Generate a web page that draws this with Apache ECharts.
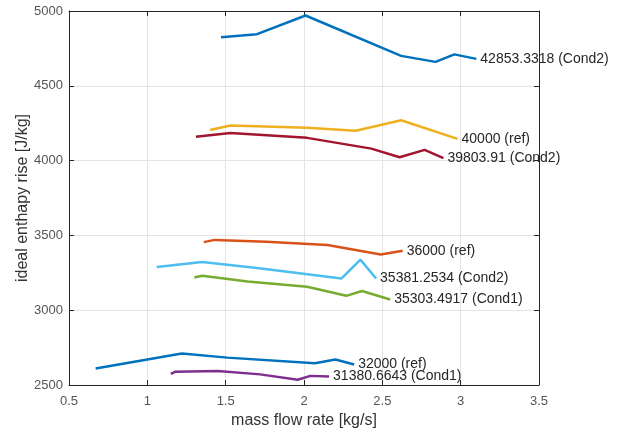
<!DOCTYPE html>
<html><head><meta charset="utf-8">
<script src="https://cdn.jsdelivr.net/npm/echarts@6/dist/echarts.min.js"></script>
<style>html,body{margin:0;padding:0;background:#fff}#c{width:635px;height:435px}</style>
</head><body><div id="c"></div>
<script>
const xTicks = [0.5, 1, 1.5, 2, 2.5, 3, 3.5];
const yTicks = [2500, 3000, 3500, 4000, 4500, 5000];

const s1Name = "42853.3318 (Cond2)";
const s1 = [[1.47,4825],[1.70,4845],[2.01,4970],[2.62,4700],[2.84,4660],[2.96,4710],[3.10,4680]];
const s2Name = "40000 (ref)";
const s2 = [[1.40,4205],[1.53,4235],[2.02,4220],[2.33,4200],[2.62,4270],[2.98,4145]];
const s3Name = "39803.91 (Cond2)";
const s3 = [[1.31,4160],[1.53,4185],[2.02,4152],[2.43,4080],[2.61,4022],[2.77,4072],[2.89,4017]];
const s4Name = "36000 (ref)";
const s4 = [[1.36,3455],[1.43,3470],[1.76,3458],[2.15,3436],[2.49,3372],[2.63,3397]];
const s5Name = "35381.2534 (Cond2)";
const s5 = [[1.06,3288],[1.35,3322],[1.70,3282],[2.24,3212],[2.36,3338],[2.46,3212]];
const s6Name = "35303.4917 (Cond1)";
const s6 = [[1.30,3218],[1.35,3230],[1.64,3192],[2.02,3157],[2.27,3096],[2.37,3128],[2.55,3072]];
const s7Name = "32000 (ref)";
const s7 = [[0.67,2610],[1.22,2710],[1.51,2683],[2.07,2645],[2.20,2670],[2.32,2637]];
const s8Name = "31380.6643 (Cond1)";
const s8 = [[1.15,2574],[1.18,2589],[1.45,2593],[1.72,2571],[1.96,2535],[2.04,2561],[2.16,2556]];

const seriesDefs = [
  [s1Name, s1, '#0072BD'],
  [s2Name, s2, '#EDB120'],
  [s3Name, s3, '#A2142F'],
  [s4Name, s4, '#D95319'],
  [s5Name, s5, '#4DBEEE'],
  [s6Name, s6, '#77AC30'],
  [s7Name, s7, '#0072BD'],
  [s8Name, s8, '#7E2F8E']
];

const font = "'Liberation Sans', Arial, sans-serif";
const axisCommon = {
  axisLine: {show: true, lineStyle: {color: '#262626', width: 1}},
  axisTick: {show: true, inside: true, length: 5, lineStyle: {color: '#262626'}},
};

const chart = echarts.init(document.getElementById('c'), null, {renderer: 'canvas'});
chart.setOption({
  animation: false,
  backgroundColor: '#fff',
  grid: {left: 69, right: 96, top: 11, bottom: 50, containLabel: false},
  xAxis: [{
    type: 'value', min: xTicks[0], max: xTicks[xTicks.length-1], interval: 0.5,
    name: 'mass flow rate [kg/s]', nameLocation: 'middle', nameGap: 28, nameMoveOverlap: false,
    nameTextStyle: {color: '#333333', fontSize: 16, fontFamily: font},
    ...axisCommon,
    axisLabel: {color: '#555555', fontSize: 13, fontFamily: font, margin: 10},
    splitLine: {show: true, lineStyle: {color: '#e5e5e5', width: 1}}
  }, {
    type: 'value', position: 'top', min: xTicks[0], max: xTicks[xTicks.length-1], interval: 0.5,
    ...axisCommon, axisLabel: {show: false}, splitLine: {show: false}
  }],
  yAxis: [{
    type: 'value', min: yTicks[0], max: yTicks[yTicks.length-1], interval: 500,
    name: 'ideal enthapy rise [J/kg]', nameLocation: 'middle', nameGap: 38, nameMoveOverlap: false,
    nameTextStyle: {color: '#333333', fontSize: 16, fontFamily: font},
    ...axisCommon,
    axisLabel: {color: '#555555', fontSize: 13, fontFamily: font, margin: 6, formatter: v => String(v)},
    splitLine: {show: true, lineStyle: {color: '#e5e5e5', width: 1}}
  }, {
    type: 'value', position: 'right', min: yTicks[0], max: yTicks[yTicks.length-1], interval: 500,
    ...axisCommon, axisLabel: {show: false}, splitLine: {show: false}
  }],
  series: seriesDefs.map(([name, data, color]) => ({
    name, type: 'line', data, showSymbol: false, symbol: 'none',
    lineStyle: {color, width: 2.5}, itemStyle: {color},
    endLabel: {show: true, formatter: name, color: '#262626', fontSize: 14, fontFamily: font, distance: 4},
    z: 3
  }))
});
</script></body></html>
